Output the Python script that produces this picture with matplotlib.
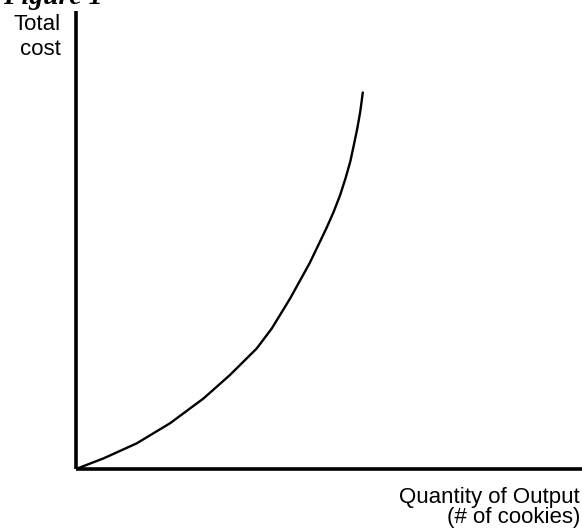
import matplotlib
matplotlib.use("Agg")
import matplotlib.pyplot as plt

# total cost curve (arbitrary units, axes run 0..100)
output_qty = [0, 5.4, 12.0, 18.6, 25.2, 30.4, 35.7, 38.7, 42.3, 46.2, 49.5,
              50.9, 52.2, 53.3, 54.2, 54.9, 55.6, 56.2, 56.7]
total_cost = [0, 2.3, 5.6, 10.0, 15.4, 20.5, 26.3, 30.7, 37.2, 45.0, 52.6,
              56.1, 59.8, 63.6, 67.1, 70.7, 74.4, 78.2, 82.4]

W, H = 582, 531
fig = plt.figure(figsize=(W / 100, H / 100), dpi=100)
ax = fig.add_axes([76 / W, 1 - 469 / H, (W - 76) / W, (469 - 11) / H])

ax.plot(output_qty, total_cost, color="black", lw=1.7,
        solid_capstyle="butt", solid_joinstyle="round")
ax.set_xlim(0, 100)
ax.set_ylim(0, 100)

for s in ["top", "right"]:
    ax.spines[s].set_visible(False)
for s in ["left", "bottom"]:
    ax.spines[s].set_linewidth(2.6)
    ax.spines[s].set_capstyle("butt")
ax.set_xticks([])
ax.set_yticks([])

sans = "Liberation Sans"


def px(x, y):
    return x / W, 1 - y / H


# the title is cut off by the top edge in the original too
fig.text(*px(3, 4), "Figure 1", fontsize=20, family="Liberation Serif",
         weight="bold", style="italic", va="baseline", ha="left")
fig.text(*px(61, 30), "Total", fontsize=16, family=sans, ha="right", va="baseline")
fig.text(*px(61, 55), "cost", fontsize=16, family=sans, ha="right", va="baseline")
fig.text(*px(580, 503), "Quantity of Output", fontsize=16, family=sans,
         ha="right", va="baseline")
fig.text(*px(580, 523), "(# of cookies)", fontsize=16, family=sans,
         ha="right", va="baseline")

fig.savefig("out.png", dpi=100, facecolor="white")
